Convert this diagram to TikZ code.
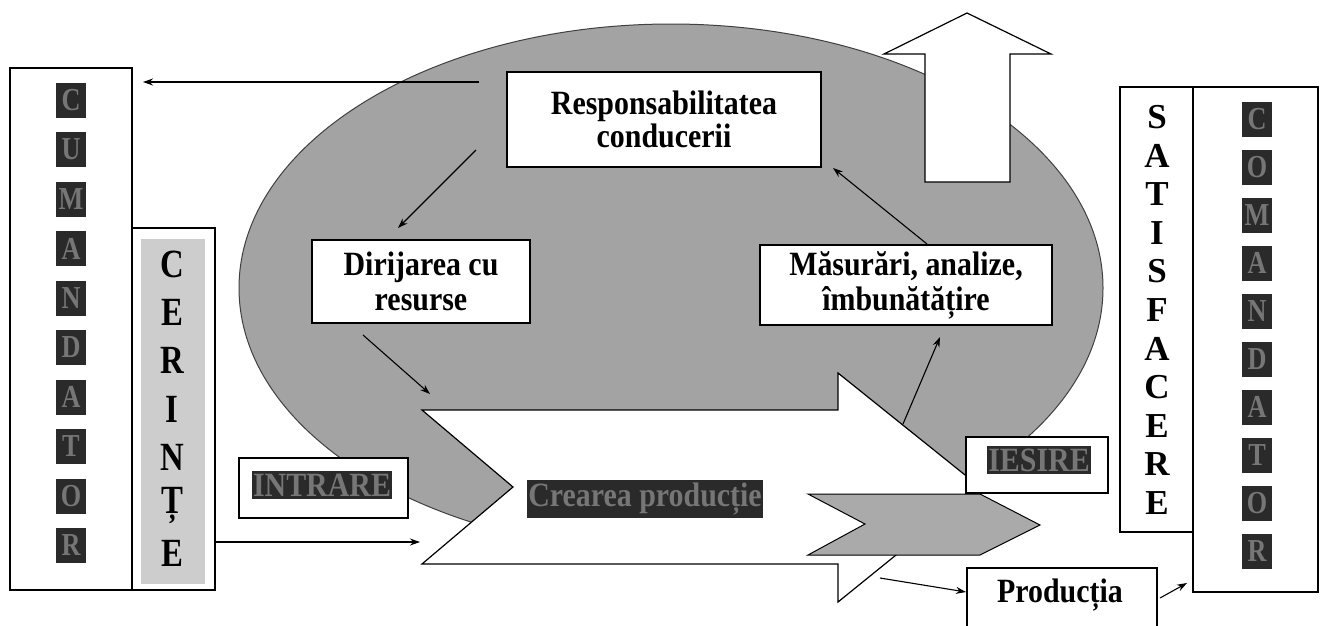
\documentclass[tikz,border=0pt]{standalone}
\usepackage{fontspec}
\setmainfont{Liberation Serif}
\newfontfamily\condfont[FakeStretch=0.88]{Liberation Serif}
\newfontfamily\narrowfont[FakeStretch=0.82]{Liberation Serif}
\usetikzlibrary{arrows.meta,calc}
\definecolor{ellgray}{RGB}{163,163,163}
\definecolor{chevgray}{RGB}{170,170,170}
\definecolor{stripgray}{RGB}{205,205,205}
\definecolor{darklab}{RGB}{42,42,42}
\definecolor{darktxt}{RGB}{118,118,118}
\begin{document}
\begin{tikzpicture}[x=1pt,y=-1pt,
  box/.style={draw=black, line width=1.2pt, fill=white, inner sep=0pt},
  boxtxt/.style={font=\condfont\fontsize{34}{34}\selectfont\bfseries, align=center},
  darklabel/.style={fill=darklab, text=darktxt, font=\condfont\fontsize{34}{34}\selectfont\bfseries, inner xsep=1pt, inner ysep=2.5pt},
  sq/.style={fill=darklab, text=darktxt, minimum width=30pt, minimum height=35pt, inner sep=0pt, font=\narrowfont\fontsize{32}{32}\selectfont\bfseries},
  bigletter/.style={font=\fontsize{35}{35}\selectfont\bfseries, inner sep=0pt},
  cerletter/.style={font=\narrowfont\fontsize{40}{40}\selectfont\bfseries, inner sep=0pt},
  conn/.style={-{Stealth[length=10pt,width=7pt]}, line width=1.1pt},
  shape outline/.style={draw=black, line width=1.2pt}
]
\useasboundingbox (0,0) rectangle (1323,625);
\fill[white] (0,0) rectangle (1323,625);

% big ellipse
\fill[ellgray, draw=black!75, line width=1pt] (671,288) ellipse [x radius=432, y radius=264];

% upward block arrow
\draw[shape outline, fill=white] (925,182) -- (925,54) -- (884,54) -- (967,13) -- (1051,54) -- (1010,54) -- (1010,182) -- cycle;

% big process arrow
\draw[shape outline, fill=white] (422,410) -- (838,410) -- (838,373) -- (980,487) -- (838,602) -- (838,564) -- (422,564) -- (513,487) -- cycle;

% gray chevron
\draw[shape outline, line width=1pt, fill=chevgray] (808,494) -- (980,494) -- (1040,525) -- (980,555) -- (808,555) -- (865,524) -- cycle;

% left column boxes
\node[box, minimum width=122pt, minimum height=522pt] (lbox) at (71,329) {};
\node[box, minimum width=83pt, minimum height=362pt] (cer) at (173.5,409) {};
\node[fill=stripgray, minimum width=64pt, minimum height=345pt, inner sep=0pt] (strip) at (173,411.5) {};

% right column boxes
\node[box, minimum width=73pt, minimum height=445pt] (sat) at (1156.5,309.5) {};
\node[box, minimum width=125pt, minimum height=505pt] (rbox) at (1255.5,339.5) {};

% left letters
\foreach \l [count=\i from 0] in {C,U,M,A,N,D,A,T,O,R}
  \node[sq] (ll\i) at (71,{100+49.5*\i}) {\l};
% right letters
\foreach \l [count=\i from 0] in {C,O,M,A,N,D,A,T,O,R}
  \node[sq] (rl\i) at (1257,{119+48*\i}) {\l};
% CERINTE
\foreach \l [count=\i from 0] in {C,E,R,I,N,Ț,E}
  \node[cerletter] (cl\i) at (172,{264+48.3*\i}) {\l};
% SATISFACERE
\foreach \l [count=\i from 0] in {S,A,T,I,S,F,A,C,E,R,E}
  \node[bigletter] (sl\i) at (1157,{117+38.6*\i}) {\l};

% main boxes
\node[box, boxtxt, minimum width=314pt, minimum height=95pt] (resp) at (664,119.5) {Responsabilitatea\\[-1pt]conducerii};
\node[box, boxtxt, minimum width=218pt, minimum height=83pt] (dir) at (421,281.5) {Dirijarea cu\\[1pt]resurse};
\node[box, boxtxt, minimum width=292pt, minimum height=80pt] (mas) at (906,285) {Măsurări, analize,\\[1pt]îmbunătățire};

% INTRARE / IESIRE / Productia
\node[box, minimum width=169pt, minimum height=60pt] (intr) at (323.5,488) {};
\node[darklabel] (intrl) at (322,485) {INTRARE};
\node[box, minimum width=142pt, minimum height=56pt] (ies) at (1037,465) {};
\node[darklabel] (iesl) at (1039,460) {IESIRE};
\node[darklabel] (crel) at (645,499) {Crearea producție};
\node[box, minimum width=190pt, minimum height=92pt] (prod) at (1062,614) {};
\node[boxtxt, inner sep=0pt] (prodt) at (1060,595) {Producția};

% connector end points
\coordinate (respout) at (479,82);
\coordinate (lin) at (143,82);
\coordinate (rdA) at (476,150);
\coordinate (rdB) at (398,228);
\coordinate (mrA) at (927,244);
\coordinate (mrB) at (833,168);
\coordinate (daA) at (363,335);
\coordinate (daB) at (430,394);
\coordinate (amA) at (903,424);
\coordinate (amB) at (940,337);
\coordinate (ciA) at (215,542);
\coordinate (ciB) at (420,542);
\coordinate (apA) at (880,578);
\coordinate (apB) at (966,592);
\coordinate (prA) at (1160,598);
\coordinate (prB) at (1187,583);

% connectors
\draw[conn] (respout) -- (lin);
\draw[conn] (rdA) -- (rdB);
\draw[conn] (mrA) -- (mrB);
\draw[conn] (daA) -- (daB);
\draw[conn] (amA) -- (amB);
\draw[conn] (ciA) -- (ciB);
\draw[conn] (apA) -- (apB);
\draw[conn] (prA) -- (prB);
\end{tikzpicture}
\end{document}
